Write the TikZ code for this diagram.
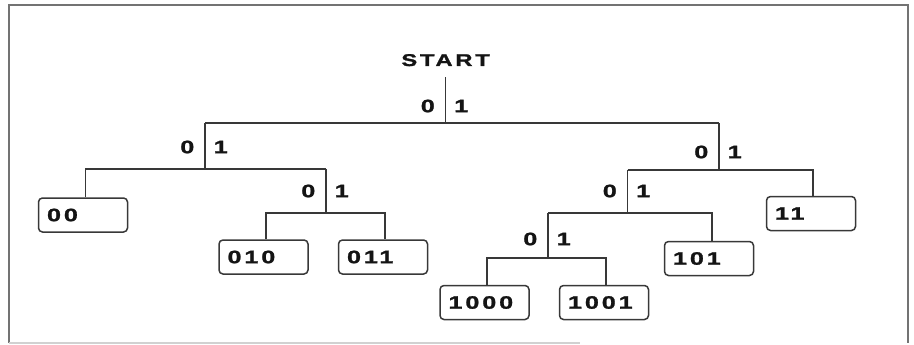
\documentclass[tikz,border=0pt]{standalone}
\usepackage{fontspec}
\newfontfamily\treefont[FakeStretch=1.4,LetterSpace=16,FakeBold=1.4]{Liberation Sans Bold}
\begin{document}
\begin{tikzpicture}[x=1pt,y=-1pt,
  treeline/.style={draw=black!78,line width=1.5pt},
  leafbox/.style={draw=black!78,line width=1.5pt,rounded corners=4pt,minimum width=89pt,minimum height=34pt,
     inner xsep=8pt,text width=72pt,align=left,font=\treefont\fontsize{18}{20}\selectfont,text=black!92},
  bitlbl/.style={font=\treefont\fontsize{18}{20}\selectfont,text=black!92,inner sep=0pt},
  framegray/.style={draw=black!55,line width=1.5pt}]
\useasboundingbox (0,0) rectangle (914,345);
% frame
\draw[framegray] (9,343) -- (9,5) -- (908,5) -- (908,343);
\draw[draw=black!18,line width=1.2pt] (9,343) -- (580,343);
% start
\node[bitlbl,anchor=base,font=\treefont\fontsize{17}{19}\selectfont] (start) at (445.6,66) {START};
% coordinates
\coordinate (r0) at (445.6,77.5);
\coordinate (rJ) at (445.6,123);
\coordinate (aT) at (205,123);   \coordinate (aJ) at (205,169);
\coordinate (bT) at (719,123);   \coordinate (bJ) at (719,170);
\coordinate (cT) at (326,169);   \coordinate (cJ) at (326,213);
\coordinate (dT) at (627.5,170); \coordinate (dJ) at (627.5,213);
\coordinate (eT) at (548,213);   \coordinate (eJ) at (548,258);
% leaves
\node[leafbox] (n00)   at (83,215)    {00};
\node[leafbox] (n010)  at (263.5,257) {010};
\node[leafbox] (n011)  at (383,257)   {011};
\node[leafbox] (n11)   at (811,213.5) {11};
\node[leafbox] (n101)  at (709,258.5) {101};
\node[leafbox] (n1000) at (484.5,302.5) {1000};
\node[leafbox] (n1001) at (604,302.5) {1001};
% verticals
\draw[treeline] (r0) -- (rJ);
\draw[treeline] (aT) -- (aJ);
\draw[treeline] (bT) -- (bJ);
\draw[treeline] (cT) -- (cJ);
\draw[treeline] (dT) -- (dJ);
\draw[treeline] (eT) -- (eJ);
% horizontals
\draw[treeline] (aT) -- (bT);
\draw[treeline] (n00.north -| 85.5,0) |- (aJ) -- (cT);
\draw[treeline] (n010.north -| 266,0) |- (cJ) -| (n011.north -| 385,0);
\draw[treeline] (dT) -- (bJ) -| (n11.north -| 813,0);
\draw[treeline] (eT) -- (dJ) -| (n101.north -| 712,0);
\draw[treeline] (n1000.north -| 487,0) |- (eJ) -| (n1001.north -| 606,0);
% bit labels
\node[bitlbl,anchor=east] (l0r) at (435,106) {0};
\node[bitlbl,anchor=west] (l1r) at (454,106) {1};
\node[bitlbl,anchor=east] (l0a) at (194.5,147) {0};
\node[bitlbl,anchor=west] (l1a) at (213.5,147) {1};
\node[bitlbl,anchor=east] (l0b) at (708.5,152) {0};
\node[bitlbl,anchor=west] (l1b) at (727.5,152) {1};
\node[bitlbl,anchor=east] (l0c) at (315.5,191) {0};
\node[bitlbl,anchor=west] (l1c) at (334.5,191) {1};
\node[bitlbl,anchor=east] (l0d) at (617,191) {0};
\node[bitlbl,anchor=west] (l1d) at (636,191) {1};
\node[bitlbl,anchor=east] (l0e) at (537.5,239) {0};
\node[bitlbl,anchor=west] (l1e) at (556.5,239) {1};
\end{tikzpicture}
\end{document}
